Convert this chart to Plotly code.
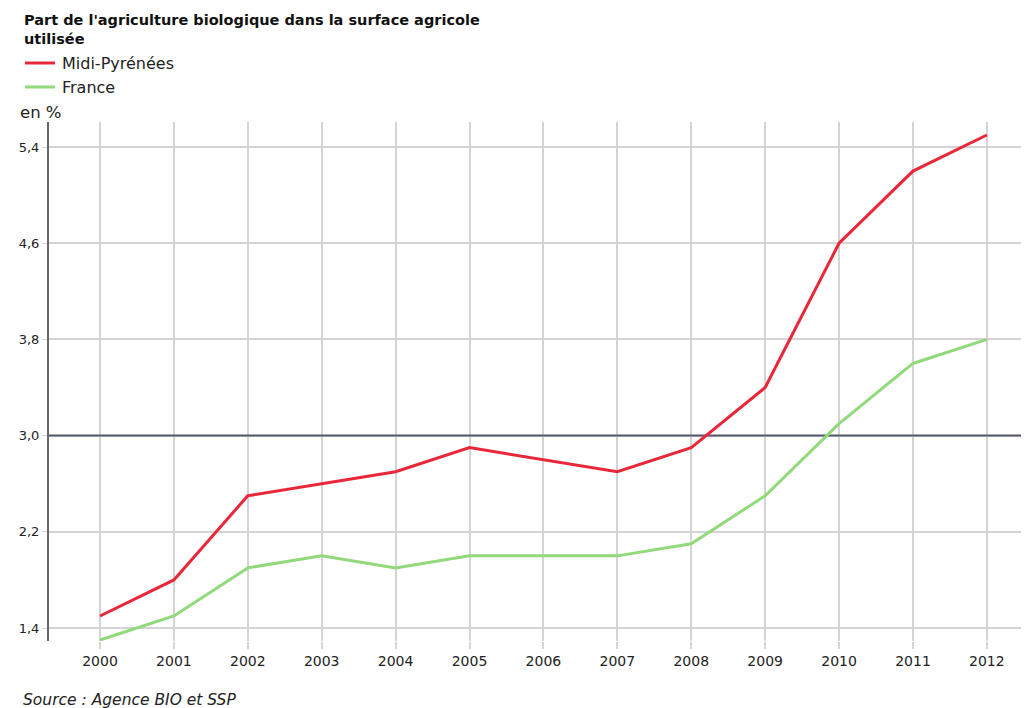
import plotly.graph_objects as go

years = [2000, 2001, 2002, 2003, 2004, 2005, 2006, 2007, 2008, 2009, 2010, 2011, 2012]
midi_pyrenees = [1.5, 1.8, 2.5, 2.6, 2.7, 2.9, 2.8, 2.7, 2.9, 3.4, 4.6, 5.2, 5.5]
france = [1.3, 1.5, 1.9, 2.0, 1.9, 2.0, 2.0, 2.0, 2.1, 2.5, 3.1, 3.6, 3.8]
y_ticks = [1.4, 2.2, 3.0, 3.8, 4.6, 5.4]
reference_value = 3.0
x_range = [1999.31, 2012.57]
y_range = [1.292, 5.608]

FONT = "DejaVu Sans"
RED = "#e8283a"
GREEN = "#92d97c"

# page body has an 8px margin: work in reference-pixel coords and convert
OFF = 8
W, H = 1029 - OFF, 708 - OFF
PL, PT, PR, PB = 49, 122, 1029, 641  # plot area in reference pixels


def px(x):
    return (x - PL) / (PR - PL)


def py(y):
    return (PB - y) / (PB - PT)


fig = go.Figure()
# dark reference line at 3,0 (drawn first, under the series)
fig.add_trace(go.Scatter(x=x_range, y=[reference_value, reference_value], mode="lines",
                         line=dict(color="#55596a", width=2), hoverinfo="skip",
                         showlegend=False, cliponaxis=False))
fig.add_trace(go.Scatter(x=years, y=midi_pyrenees, mode="lines", name="Midi-Pyrénées",
                         line=dict(color=RED, width=3)))
fig.add_trace(go.Scatter(x=years, y=france, mode="lines", name="France",
                         line=dict(color=GREEN, width=3)))

fig.update_layout(
    width=W, height=H,
    paper_bgcolor="white", plot_bgcolor="white",
    separators=", ",
    margin=dict(l=PL - OFF, r=1029 - PR, t=PT - OFF, b=708 - PB),
    showlegend=False,
    font=dict(family=FONT, color="#222222"),
    xaxis=dict(range=x_range, tickmode="array", tickvals=years,
               ticktext=[str(y) for y in years],
               showgrid=True, gridcolor="#d4d4d4", gridwidth=1.5,
               ticks="outside", ticklen=7, tickcolor="#d4d4d4", tickwidth=1.5,
               showline=False, zeroline=False,
               tickfont=dict(family=FONT, size=14, color="#222222")),
    yaxis=dict(range=y_range, tickmode="array", tickvals=y_ticks,
               tickformat=".1f",
               showgrid=True, gridcolor="#d4d4d4", gridwidth=1.5,
               ticks="outside", ticklen=5, tickcolor="#d4d4d4",
               showline=True, linecolor="#666666", linewidth=2,
               zeroline=False,
               tickfont=dict(family=FONT, size=13, color="#222222")),
)

fig.add_annotation(xref="paper", yref="paper", x=px(22), y=py(30),
                   text="<b>Part de l'agriculture biologique dans la surface agricole<br>utilisée</b>",
                   showarrow=False, xanchor="left", yanchor="middle", align="left",
                   font=dict(family=FONT, size=14.5, color="#111111"))

# legend drawn manually
for i, (name, color) in enumerate([("Midi-Pyrénées", RED), ("France", GREEN)]):
    ypix = 63 + i * 24
    fig.add_shape(type="line", xref="paper", yref="paper",
                  x0=px(25), x1=px(55), y0=py(ypix), y1=py(ypix),
                  line=dict(color=color, width=3))
    fig.add_annotation(xref="paper", yref="paper", x=px(60), y=py(ypix),
                       text=name, showarrow=False, xanchor="left", yanchor="middle",
                       font=dict(family=FONT, size=16, color="#222222"))

fig.add_annotation(xref="paper", yref="paper", x=px(18), y=py(112),
                   text="en %", showarrow=False, xanchor="left", yanchor="middle",
                   font=dict(family=FONT, size=16.5, color="#222222"))

fig.add_annotation(xref="paper", yref="paper", x=px(21), y=py(700),
                   text="<i>Source : Agence BIO et SSP</i>", showarrow=False,
                   xanchor="left", yanchor="middle",
                   font=dict(family=FONT, size=15.5, color="#222222"))

fig.write_html("out.html")
